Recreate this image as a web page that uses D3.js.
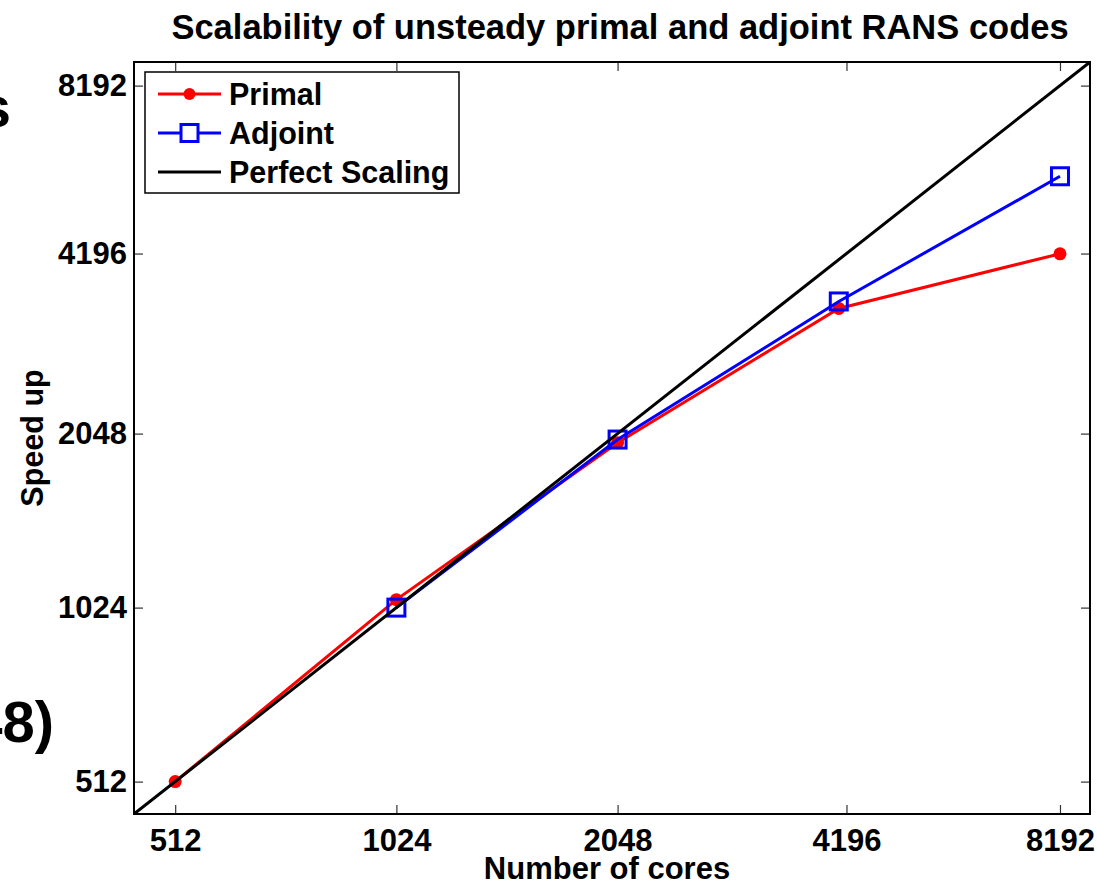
<!DOCTYPE html>
<html>
<head>
<meta charset="utf-8">
<script src="https://cdn.jsdelivr.net/npm/d3@7"></script>
<style>
  html, body { margin: 0; padding: 0; background: #fff; }
  svg { display: block; }
  text { font-family: "Liberation Sans", Arial, Helvetica, sans-serif; font-weight: bold; fill: #000; }
</style>
</head>
<body>
<svg id="chart" width="1097" height="885"></svg>
<script>
// ---- data ----
const cores = [512, 1024, 2048, 4096, 8192];
const primal = [512, 1057, 1975, 3372, 4192];
const adjointCores = [1024, 2048, 4096, 8192];
const adjoint = [1024, 2000, 3467, 5709];
const perfectCores = [450, 9000];
const perfect = [450, 9000];
const tickValues = [512, 1024, 2048, 4196, 8192];
const tickLabels = ["512", "1024", "2048", "4196", "8192"];
const axisDomain = [450, 9000];
const titleText = "Scalability of unsteady primal and adjoint RANS codes";
const xTitle = "Number of cores";
const yTitle = "Speed up";
const legendItems = ["Primal", "Adjoint", "Perfect Scaling"];

const svg = d3.select("#chart");
const L = 134, R = 1090, T = 62, B = 814;

// background slide fragments (cut at left edge)
svg.append("text").attr("x", 11).attr("y", 127).attr("text-anchor", "end")
  .style("font-family", "'Liberation Sans Narrow', 'Liberation Sans', sans-serif").style("font-weight", "bold")
  .style("font-size", "58px").text("s");
svg.append("text").attr("x", 54).attr("y", 742).attr("text-anchor", "end")
  .style("font-family", "'Liberation Sans Narrow', 'Liberation Sans', sans-serif").style("font-weight", "bold")
  .style("font-size", "58px").text("48)");

const x = d3.scaleLog().base(2).domain(axisDomain).range([L, R]);
const y = d3.scaleLog().base(2).domain(axisDomain).range([B, T]);

const fmt = d => tickLabels[tickValues.indexOf(d)];

// axes with inward ticks
const gx = svg.append("g").attr("transform", `translate(0,${B})`)
  .call(d3.axisBottom(x).tickValues(tickValues).tickFormat(fmt).tickSizeInner(-9).tickSizeOuter(0).tickPadding(15));
const gxt = svg.append("g").attr("transform", `translate(0,${T})`)
  .call(d3.axisTop(x).tickValues(tickValues).tickFormat("").tickSizeInner(-9).tickSizeOuter(0));
const gy = svg.append("g").attr("transform", `translate(${L},0)`)
  .call(d3.axisLeft(y).tickValues(tickValues).tickFormat(fmt).tickSizeInner(-9).tickSizeOuter(0).tickPadding(7));
const gyr = svg.append("g").attr("transform", `translate(${R},0)`)
  .call(d3.axisRight(y).tickValues(tickValues).tickFormat("").tickSizeInner(-9).tickSizeOuter(0));

[gx, gxt, gy, gyr].forEach(g => {
  g.select(".domain").remove();
  g.selectAll(".tick line").attr("stroke", "#333").attr("stroke-width", 1.2);
  g.selectAll(".tick text").style("font-size", "31px").attr("fill", "#000")
    .style("font-family", "'Liberation Sans', Arial, sans-serif").style("font-weight", "bold");
});

// clip
svg.append("clipPath").attr("id", "plotclip")
  .append("rect").attr("x", L).attr("y", T).attr("width", R - L).attr("height", B - T);

const plot = svg.append("g").attr("clip-path", "url(#plotclip)");

const line = d3.line().x(d => x(d[0])).y(d => y(d[1]));

// primal
plot.append("path").datum(cores.map((c, i) => [c, primal[i]]))
  .attr("d", line).attr("fill", "none").attr("stroke", "#ff0000").attr("stroke-width", 3);
plot.selectAll(".pdot").data(cores.map((c, i) => [c, primal[i]])).enter().append("circle")
  .attr("cx", d => x(d[0])).attr("cy", d => y(d[1])).attr("r", 6.5).attr("fill", "#ff0000");

// adjoint
plot.append("path").datum(adjointCores.map((c, i) => [c, adjoint[i]]))
  .attr("d", line).attr("fill", "none").attr("stroke", "#0000ff").attr("stroke-width", 3);
plot.selectAll(".asq").data(adjointCores.map((c, i) => [c, adjoint[i]])).enter().append("rect")
  .attr("x", d => x(d[0]) - 8.5).attr("y", d => y(d[1]) - 8.5).attr("width", 17).attr("height", 17)
  .attr("fill", "none").attr("stroke", "#0000ff").attr("stroke-width", 3);

// perfect scaling
plot.append("path").datum(perfectCores.map((c, i) => [c, perfect[i]]))
  .attr("d", line).attr("fill", "none").attr("stroke", "#000").attr("stroke-width", 3);

// box
svg.append("rect").attr("x", L).attr("y", T).attr("width", R - L).attr("height", B - T)
  .attr("fill", "none").attr("stroke", "#000").attr("stroke-width", 2);

// legend
const lg = svg.append("g");
lg.append("rect").attr("x", 145).attr("y", 72).attr("width", 314).attr("height", 121)
  .attr("fill", "#fff").attr("stroke", "#000").attr("stroke-width", 1.5);
const ly = [94, 133, 172];
const lcol = ["#ff0000", "#0000ff", "#000"];
legendItems.forEach((name, i) => {
  lg.append("line").attr("x1", 158).attr("x2", 221).attr("y1", ly[i]).attr("y2", ly[i])
    .attr("stroke", lcol[i]).attr("stroke-width", 3);
  if (i === 0) lg.append("circle").attr("cx", 189.5).attr("cy", ly[i]).attr("r", 6).attr("fill", lcol[i]);
  if (i === 1) lg.append("rect").attr("x", 181).attr("y", ly[i] - 8.5).attr("width", 17).attr("height", 17)
    .attr("fill", "#fff").attr("stroke", lcol[i]).attr("stroke-width", 3);
  lg.append("text").attr("x", 229).attr("y", ly[i]).attr("dy", "0.36em")
    .style("font-size", "30.5px").text(name);
});

// titles
svg.append("text").attr("x", 620).attr("y", 39).attr("text-anchor", "middle")
  .style("font-size", "34.5px").text(titleText);
svg.append("text").attr("x", 607).attr("y", 879).attr("text-anchor", "middle")
  .style("font-size", "31px").text(xTitle);
svg.append("text").attr("transform", "translate(43,438) rotate(-90)").attr("text-anchor", "middle")
  .style("font-size", "30.5px").text(yTitle);
</script>
</body>
</html>
